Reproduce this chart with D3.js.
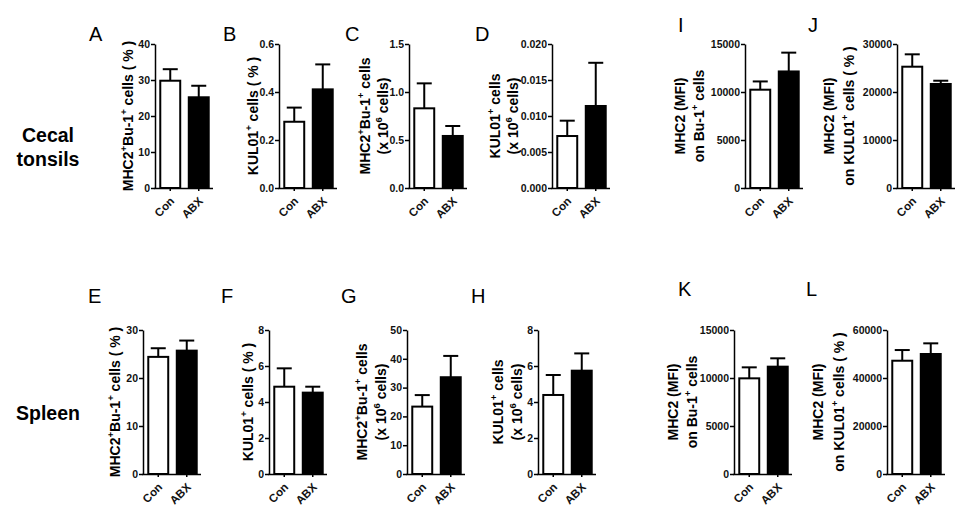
<!DOCTYPE html>
<html><head><meta charset="utf-8">
<script src="https://cdn.jsdelivr.net/npm/d3@7"></script>
<style>
body{margin:0;background:#fff;}
svg{display:block;}
text{font-family:Arial,"Liberation Sans",sans-serif;}
</style></head>
<body><svg id="c" width="962" height="515"></svg>
<script>
// ---- data ----
const groups = ["Con", "ABX"];
const panelIds = ["A","B","C","D","I","J","E","F","G","H","K","L"];
const conMeans = [29.8, 0.276, 0.83, 0.00722, 10240, 25270, 24.4, 4.85, 23.4, 4.39, 9965, 47200];
const conSem   = [3.2, 0.059, 0.26, 0.00213, 860, 2580, 1.8, 1.02, 4.0, 1.11, 1145, 4450];
const abxMeans = [25.2, 0.411, 0.542, 0.01139, 12140, 21670, 25.7, 4.52, 33.6, 5.74, 11180, 50000];
const abxSem   = [3.2, 0.104, 0.104, 0.0060, 1960, 680, 2.1, 0.33, 7.4, 0.96, 870, 4440];
const yMax     = [40, 0.6, 1.5, 0.02, 15000, 30000, 30, 8, 50, 8, 15000, 60000];
const tickStep = [10, 0.2, 0.5, 0.005, 5000, 10000, 10, 2, 10, 2, 5000, 20000];
const tickDecimals = [0, 1, 1, 3, 0, 0, 0, 0, 0, 0, 0, 0];
const yTitles = [
  ["MHC2^+Bu-1^+ cells ( % )"],
  ["KUL01^+ cells ( % )"],
  ["MHC2^+Bu-1^+ cells", "(x 10^6 cells)"],
  ["KUL01^+ cells", "(x 10^6 cells)"],
  ["MHC2 (MFI)", "on Bu-1^+ cells"],
  ["MHC2 (MFI)", "on KUL01^+ cells ( % )"],
  ["MHC2^+Bu-1^+ cells ( % )"],
  ["KUL01^+ cells ( % )"],
  ["MHC2^+Bu-1^+ cells", "(x 10^6 cells)"],
  ["KUL01^+ cells", "(x 10^6 cells)"],
  ["MHC2 (MFI)", "on Bu-1^+ cells"],
  ["MHC2 (MFI)", "on KUL01^+ cells ( % )"]
];
const rowLabels = [["Cecal", "tonsils"], ["Spleen"]];

// ---- layout ----
const axisX = [155, 279, 409, 552, 745, 897, 143, 269, 407, 538, 734, 887];
const rowOf = [0,0,0,0,0,0,1,1,1,1,1,1];
const rowY0 = [188, 474], rowTop = [44, 330];
const titleX = [[128],[253],[365,383],[495,513],[680,699],[829,849],[115],[248],[362,381],[498,517],[673,692],[818,839]];
const letterPos = [[89,41],[223,41],[345,41],[475,41],[678,32],[808,32],[88,303],[221,303],[341,303],[471,303],[678,296],[806,296]];
const rowLabelPos = [[48,142,166],[48,420]];

const svg = d3.select("#c");

function richText(sel, str, supSize) {
  const parts = str.split(/\^(.)/);
  let pendingDy = 0;
  parts.forEach((p, k) => {
    if (p === "") return;
    if (k % 2 === 1) {
      sel.append("tspan").attr("font-size", supSize).attr("dy", pendingDy - 5).text(p);
      pendingDy = 5;
    } else {
      sel.append("tspan").attr("dy", pendingDy).text(p);
      pendingDy = 0;
    }
  });
}

panelIds.forEach((id, i) => {
  const r = rowOf[i];
  const y0 = rowY0[r], yT = rowTop[r], ax = axisX[i];
  const y = d3.scaleLinear().domain([0, yMax[i]]).range([y0, yT]);
  const x = d3.scaleBand().domain(groups).range([ax + 1, ax + 58]).paddingInner(0.3).paddingOuter(0.15);
  const g = svg.append("g");
  const ticks = d3.range(0, yMax[i] + tickStep[i] / 2, tickStep[i]);
  const yAxis = g.append("g").attr("transform", `translate(${ax},0)`)
    .call(d3.axisLeft(y).tickValues(ticks).tickFormat(d3.format(`.${tickDecimals[i]}f`)).tickSize(4).tickSizeOuter(0).tickPadding(1));
  yAxis.select(".domain").attr("stroke", "#000").attr("stroke-width", 1.5);
  yAxis.selectAll(".tick line").attr("stroke-width", 1.5);
  yAxis.selectAll(".tick text").attr("font-size", 10.5).attr("font-weight", "bold").attr("fill", "#111");

  const xAxis = g.append("g").attr("transform", `translate(0,${y0})`)
    .call(d3.axisBottom(x).tickSize(3).tickSizeOuter(0).tickFormat(""));
  xAxis.select(".domain").attr("stroke", "#000").attr("stroke-width", 1.5).attr("d", `M${ax - 0.75},0.5H${ax + 58}`);
  xAxis.selectAll(".tick line").attr("stroke-width", 1.5);
  groups.forEach(gname => {
    g.append("text")
      .attr("transform", `translate(${x(gname) + x.bandwidth() / 2 + 2},${y0 + 11}) rotate(-45)`)
      .attr("text-anchor", "end").attr("dominant-baseline", "central")
      .attr("font-size", 11.5).attr("font-weight", "bold").attr("fill", "#111").text(gname);
  });

  const vals = [
    {k: "Con", m: conMeans[i], e: conSem[i], fill: "#fff"},
    {k: "ABX", m: abxMeans[i], e: abxSem[i], fill: "#000"}
  ];
  vals.forEach(v => {
    const cx = x(v.k) + x.bandwidth() / 2;
    g.append("line").attr("x1", cx).attr("x2", cx).attr("y1", y(v.m)).attr("y2", y(v.m + v.e))
      .attr("stroke", "#000").attr("stroke-width", 2);
    g.append("line").attr("x1", cx - 7.5).attr("x2", cx + 7.5).attr("y1", y(v.m + v.e)).attr("y2", y(v.m + v.e))
      .attr("stroke", "#000").attr("stroke-width", 2);
    g.append("rect").attr("x", x(v.k)).attr("y", y(v.m)).attr("width", x.bandwidth()).attr("height", y0 - y(v.m))
      .attr("fill", v.fill).attr("stroke", "#000").attr("stroke-width", 2);
  });

  const yc = (y0 + yT) / 2;
  yTitles[i].forEach((line, j) => {
    const t = g.append("text")
      .attr("transform", `translate(${titleX[i][j]},${yc}) rotate(-90)`)
      .attr("text-anchor", "middle").attr("dominant-baseline", "central")
      .attr("font-size", 14).attr("font-weight", "bold").attr("fill", "#000");
    richText(t, line, 9.5);
  });

  svg.append("text").attr("x", letterPos[i][0]).attr("y", letterPos[i][1])
    .attr("font-size", 20).attr("fill", "#000").text(id);
});

rowLabels.forEach((lines, r) => {
  lines.forEach((l, j) => {
    svg.append("text").attr("x", rowLabelPos[r][0]).attr("y", rowLabelPos[r][1 + j])
      .attr("text-anchor", "middle").attr("font-size", 19.5).attr("font-weight", "bold").text(l);
  });
});
</script></body></html>
